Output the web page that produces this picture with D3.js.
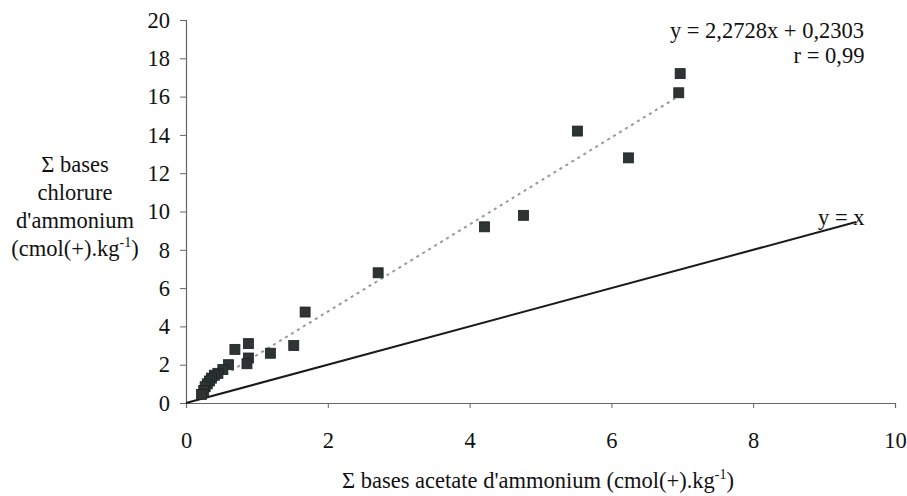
<!DOCTYPE html>
<html><head><meta charset="utf-8">
<script src="https://cdn.jsdelivr.net/npm/d3@7"></script>
<style>body{margin:0;background:#fff}svg{display:block}svg text{font-family:"Liberation Serif","DejaVu Serif",serif}</style>
</head><body><svg id="c" width="907" height="496" font-family="Liberation Serif, DejaVu Serif, serif"></svg>
<script>
const xData = [6.97,6.95,5.52,6.24,4.76,4.21,2.71,1.68,1.52,1.19,0.88,0.88,0.86,0.69,0.60,0.52,0.45,0.40,0.36,0.33,0.30,0.27,0.25,0.22];
const yData = [17.2,16.2,14.2,12.8,9.8,9.2,6.8,4.75,3.0,2.6,3.1,2.35,2.05,2.8,2.0,1.75,1.55,1.45,1.3,1.15,1.0,0.85,0.65,0.45];
const xTicks = [0,2,4,6,8,10];
const yTicks = [0,2,4,6,8,10,12,14,16,18,20];
const slope = 2.2728, intercept = 0.2303;
const identityEnd = 9.45;

const FS = 22.5;
const svg = d3.select("#c");
const x = d3.scaleLinear().domain([0,10]).range([186,895]);
const y = d3.scaleLinear().domain([0,20]).range([403,20]);
const axisCol = "#666";

// y axis
const ya = svg.append("g").attr("transform","translate(186,0)")
  .call(d3.axisLeft(y).tickValues(yTicks).tickSize(6).tickPadding(10).tickFormat(d3.format("d")));
ya.attr("font-family",null).attr("font-size",null);
ya.select(".domain").attr("stroke",axisCol).attr("stroke-width",1.2);
ya.selectAll(".tick line").attr("stroke",axisCol);
ya.selectAll("text").attr("font-size",FS).attr("fill","#111");

// x axis
const xa = svg.append("g").attr("transform","translate(0,403)")
  .call(d3.axisBottom(x).tickValues(xTicks).tickSize(5).tickPadding(24).tickFormat(d3.format("d")));
xa.attr("font-family",null).attr("font-size",null);
xa.select(".domain").attr("stroke",axisCol).attr("stroke-width",1.2);
xa.selectAll(".tick line").attr("stroke",axisCol);
xa.selectAll("text").attr("font-size",FS).attr("fill","#111");

// y = x line
svg.append("line")
  .attr("x1",x(0)).attr("y1",y(0)).attr("x2",x(identityEnd)).attr("y2",y(identityEnd))
  .attr("stroke","#1a1a1a").attr("stroke-width",2);

// regression line
const xmin = d3.min(xData), xmax = d3.max(xData);
svg.append("line")
  .attr("x1",x(xmin)).attr("y1",y(slope*xmin+intercept))
  .attr("x2",x(xmax)).attr("y2",y(slope*xmax+intercept))
  .attr("stroke","#999").attr("stroke-width",2).attr("stroke-dasharray","3,4");

// points
const pts = xData.map((v,i)=>({x:v,y:yData[i]}));
svg.selectAll("rect.pt").data(pts).enter().append("rect").attr("class","pt")
  .attr("x",d=>x(d.x)-5).attr("y",d=>y(d.y)-5).attr("width",10).attr("height",10)
  .attr("fill","#2e3334").attr("stroke","#1c2020").attr("stroke-width",0.8);

function T(){ return svg.append("text").attr("font-size",FS).attr("fill","#111"); }

// equation labels
T().attr("x",767).attr("y",38).attr("text-anchor","middle").text("y = 2,2728x + 0,2303");
T().attr("x",829).attr("y",63).attr("text-anchor","middle").text("r = 0,99");
T().attr("x",818).attr("y",225).text("y = x");

// y axis title
const yt = T().attr("text-anchor","middle");
yt.append("tspan").attr("x",75).attr("y",172).text("Σ bases");
yt.append("tspan").attr("x",75).attr("y",200).text("chlorure");
yt.append("tspan").attr("x",75).attr("y",228).text("d'ammonium");
const l4 = T().attr("x",75).attr("y",256).attr("text-anchor","middle");
l4.append("tspan").text("(cmol(+).kg");
l4.append("tspan").attr("dy",-9).attr("font-size",14).text("-1");
l4.append("tspan").attr("dy",9).text(")");

// x axis title
const xt = T().attr("x",538).attr("y",488).attr("text-anchor","middle");
xt.append("tspan").text("Σ bases acetate d'ammonium (cmol(+).kg");
xt.append("tspan").attr("dy",-9).attr("font-size",14).text("-1");
xt.append("tspan").attr("dy",9).text(")");
</script></body></html>
